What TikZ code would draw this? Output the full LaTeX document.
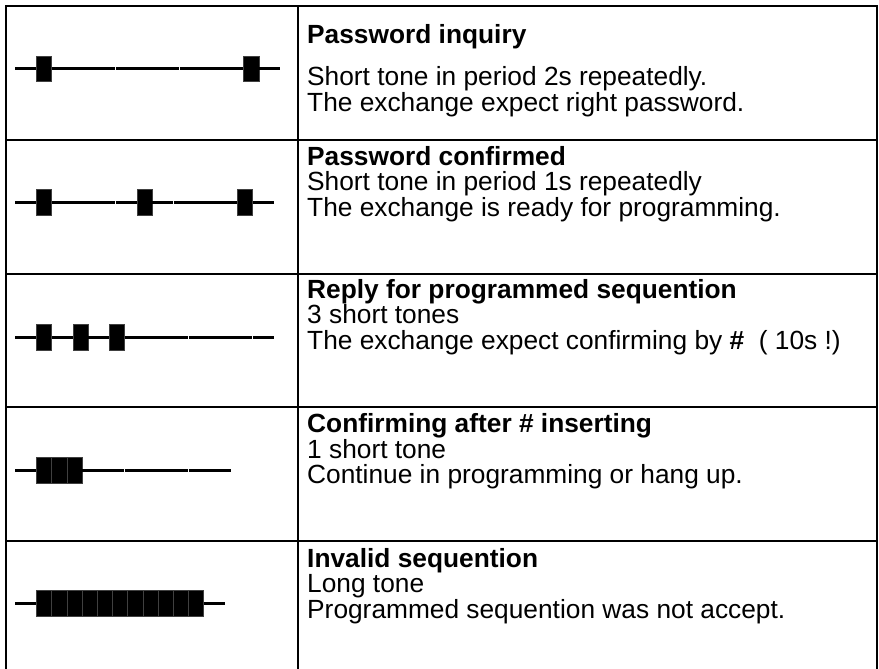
\documentclass[tikz,border=0pt]{standalone}
\usepackage{fontspec}
\setmainfont{Liberation Sans}
\newcommand\wavedraw[2]{%
  \xdef\wx{15}%
  \foreach \t in {#2}{%
    \if\t L%
      \pgfmathsetmacro\wnx{\wx+21.33}%
      \draw[waveline] (\wx+0.15,#1) -- (\wnx-0.15,#1);%
    \else
      \pgfmathsetmacro\wnx{\wx+15.2}%
      \filldraw[toneblock] (\wx,#1-12.7) rectangle (\wnx,#1+12.7);%
    \fi
    \xdef\wx{\wnx}%
  }%
}
\begin{document}
\begin{tikzpicture}[x=1pt,y=-1pt,
  gridline/.style={line width=2pt,black},
  waveline/.style={line width=3pt,black},
  toneblock/.style={fill=black,draw=black!75,line width=0.4pt},
  txt/.style={anchor=base west,inner sep=0pt,font=\fontsize{26.3}{30}\selectfont},
  ttl/.style={txt,font=\fontsize{26.3}{30}\selectfont\bfseries}]
\useasboundingbox (0,0) rectangle (879,669);
% grid
\draw[gridline] (6,669) -- (6,6) -- (877,6) -- (877,669);
\draw[gridline] (298,6) -- (298,669);
\foreach \ry in {140,274,407,541}{\draw[gridline] (6,\ry) -- (877,\ry);}
% waveforms
\wavedraw{69}{L,B,L,L,L,L,L,L,L,L,L,B,L}
\wavedraw{202}{L,B,L,L,L,L,B,L,L,L,L,B,L}
\wavedraw{337}{L,B,L,B,L,B,L,L,L,L,L,L,L}
\wavedraw{470}{L,B,B,B,L,L,L,L,L,L,L}
\wavedraw{603}{L,B,B,B,B,B,B,B,B,B,B,B,L}
% texts
\node[ttl] (t1) at (307,44) {Password inquiry};
\node[txt] (a1) at (307,86) {Short tone in period 2s repeatedly.};
\node[txt] (b1) at (307,111) {The exchange expect right password.};
\node[ttl] (t2) at (307,165) {Password confirmed};
\node[txt] (a2) at (307,190.5) {Short tone in period 1s repeatedly};
\node[txt] (b2) at (307,216) {The exchange is ready for programming.};
\node[ttl] (t3) at (307,298) {Reply for programmed sequention};
\node[txt] (a3) at (307,323.5) {3 short tones};
\node[txt] (b3) at (307,349) {The exchange expect confirming by \textbf{\#}\ \ ( 10s !)};
\node[ttl] (t4) at (307,432.5) {Confirming after \# inserting};
\node[txt] (a4) at (307,458) {1 short tone};
\node[txt] (b4) at (307,483) {Continue in programming or hang up.};
\node[ttl] (t5) at (307,567) {Invalid sequention};
\node[txt] (a5) at (307,592.5) {Long tone};
\node[txt] (b5) at (307,618) {Programmed sequention was not accept.};
\end{tikzpicture}
\end{document}
